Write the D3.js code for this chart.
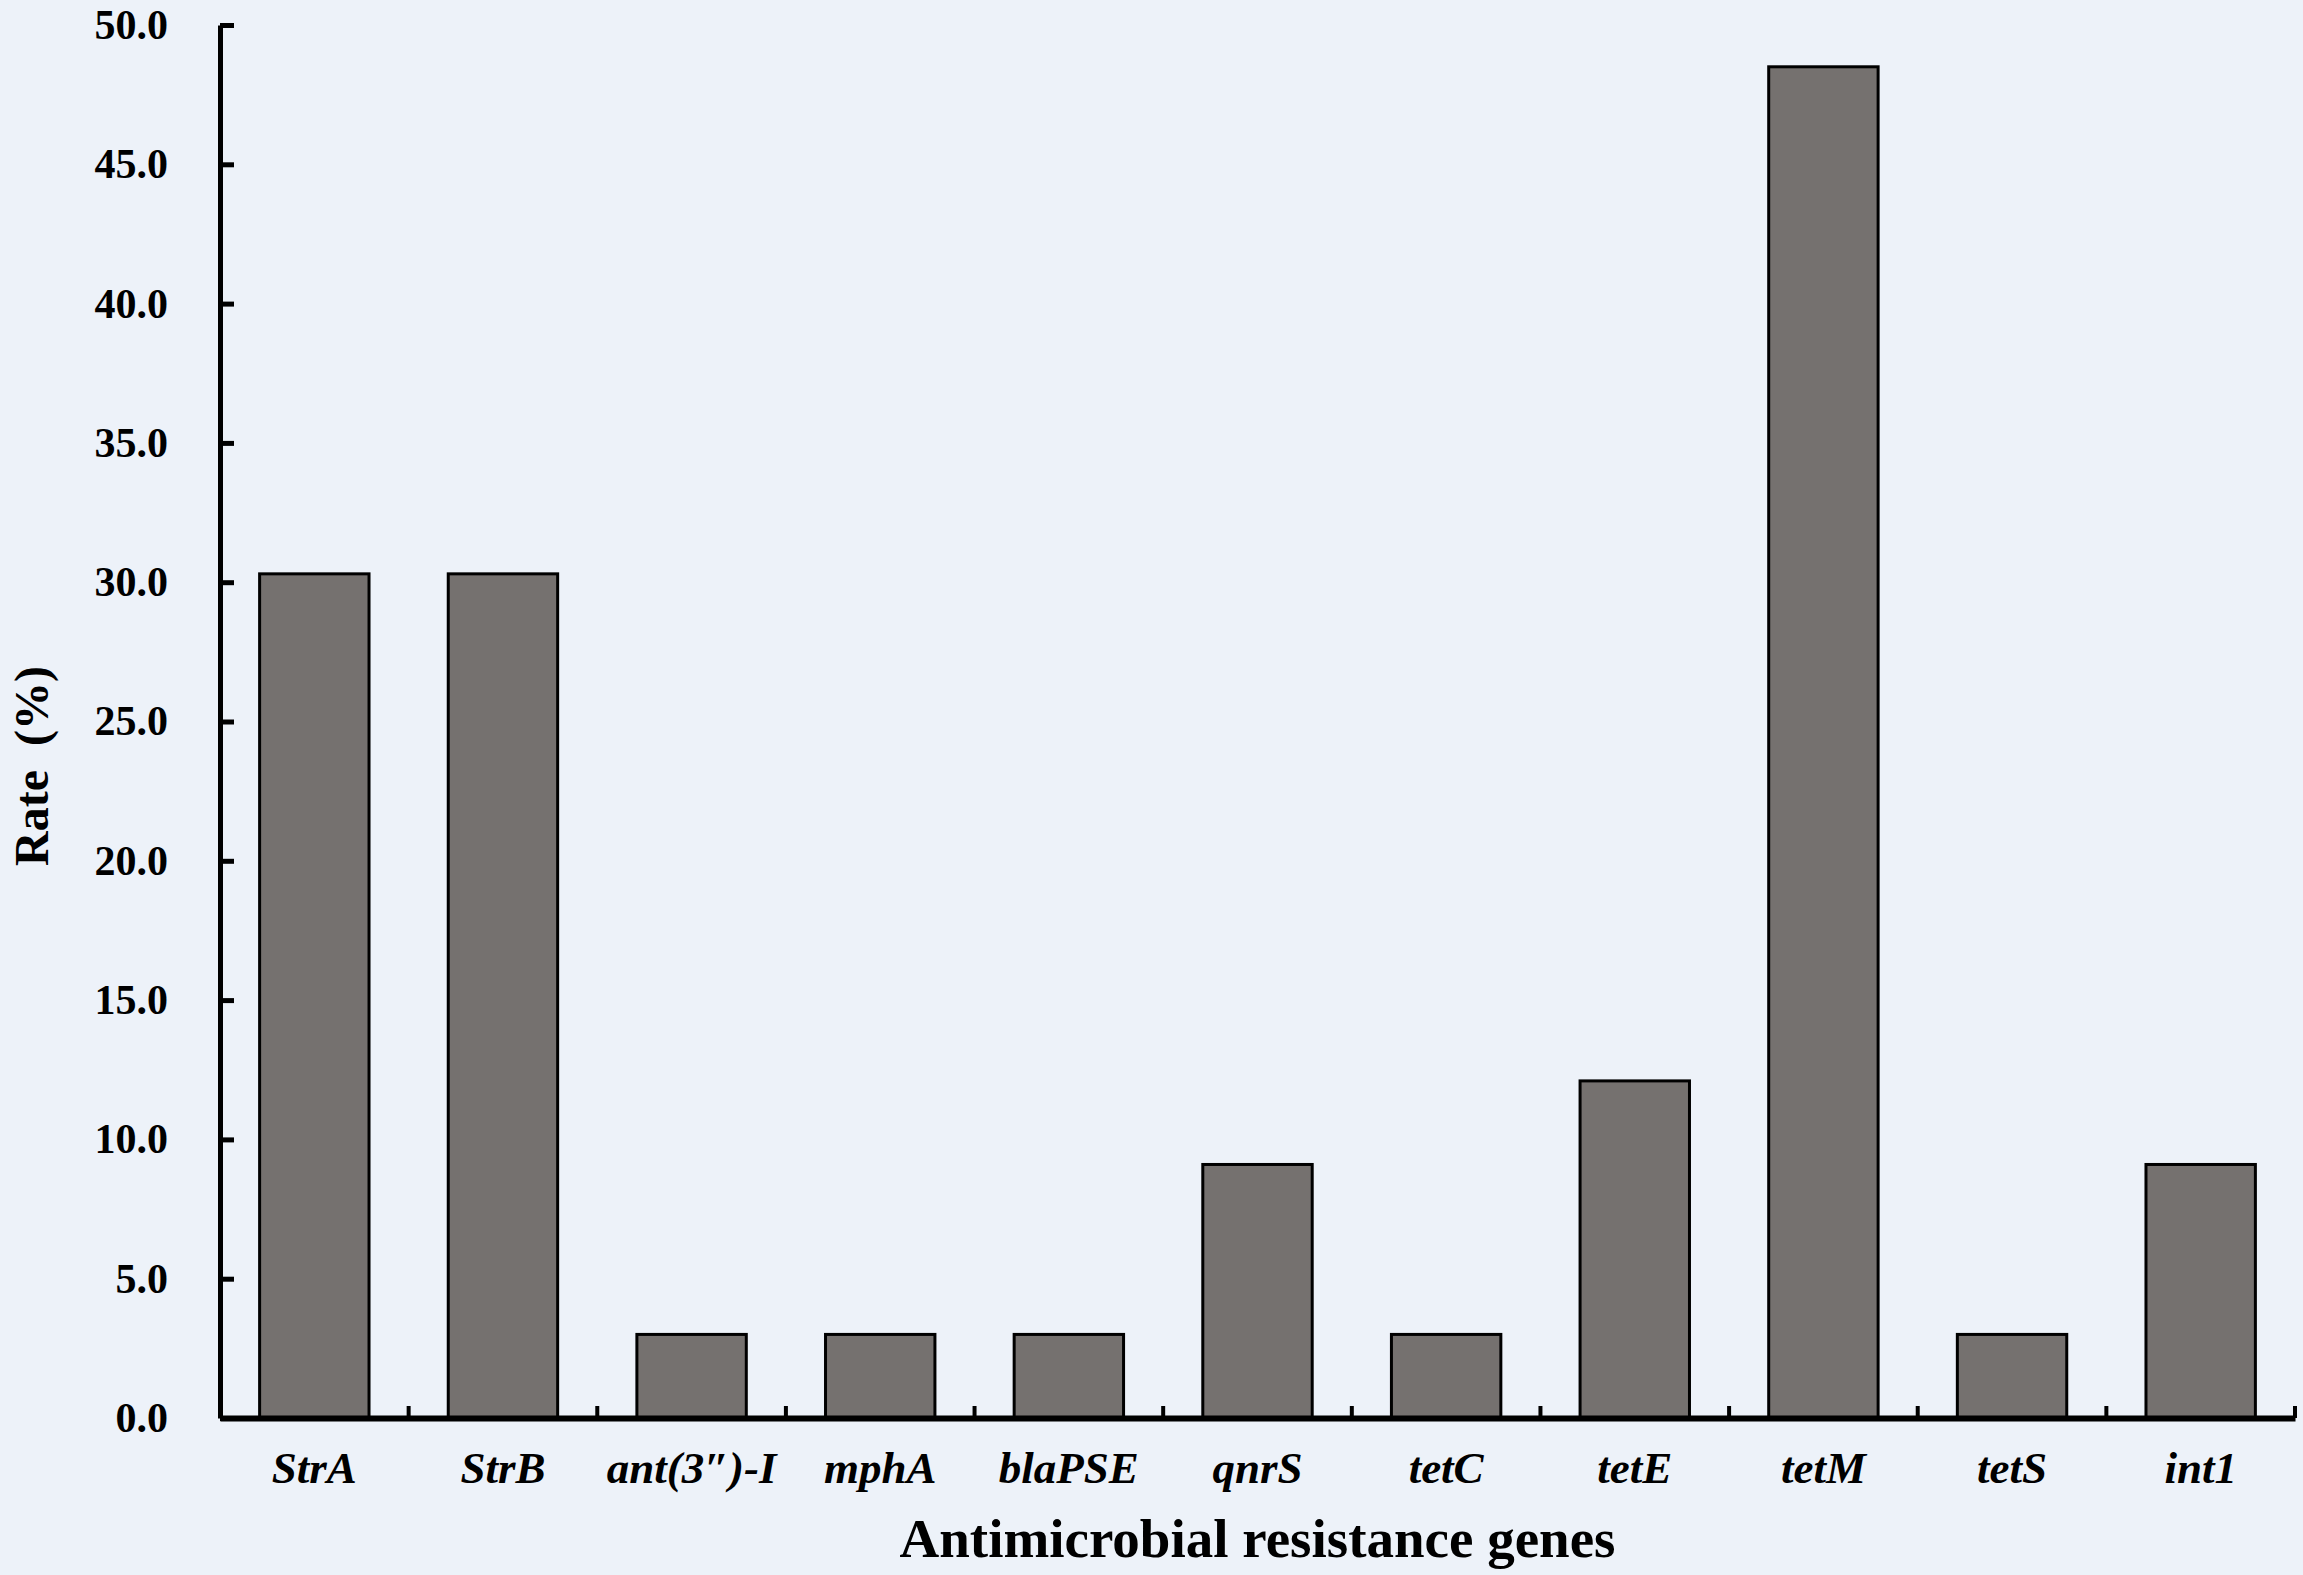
<!DOCTYPE html>
<html>
<head>
<meta charset="utf-8">
<script src="https://cdn.jsdelivr.net/npm/d3@7"></script>
<style>
  body { margin: 0; background: #edf2f9; }
  svg { display: block; }
  text { font-family: "Times New Roman", "Liberation Serif", serif; fill: #000; }
</style>
</head>
<body>
<div class="chart"></div>
<script>
const genes = ["StrA", "StrB", "ant(3\u2033)-I", "mphA", "blaPSE", "qnrS", "tetC", "tetE", "tetM", "tetS", "int1"];
const rates = [30.3, 30.3, 3.0, 3.0, 3.0, 9.1, 3.0, 12.1, 48.5, 3.0, 9.1];
const yTicks = [0, 5, 10, 15, 20, 25, 30, 35, 40, 45, 50];

const width = 2303, height = 1575;
const margin = { top: 25, right: 8, bottom: 157, left: 220 };
const pad = 0.42;

const svg = d3.select(".chart")
    .append("svg")
    .attr("width", width)
    .attr("height", height);

svg.append("rect")
    .attr("width", width)
    .attr("height", height)
    .attr("fill", "#edf2f9");

const x = d3.scaleBand()
    .domain(genes)
    .range([margin.left, width - margin.right])
    .paddingInner(pad)
    .paddingOuter(pad / 2);

const y = d3.scaleLinear()
    .domain([0, 50])
    .range([height - margin.bottom, margin.top]);

// bars
svg.selectAll(".bar")
    .data(genes)
    .enter()
    .append("rect")
    .attr("class", "bar")
    .attr("x", d => x(d))
    .attr("y", (d, i) => y(rates[i]))
    .attr("width", x.bandwidth())
    .attr("height", (d, i) => y(0) - y(rates[i]))
    .attr("fill", "#75716f")
    .attr("stroke", "#000")
    .attr("stroke-width", 3);

// y axis, ticks point inward
const yAxis = svg.append("g")
    .attr("transform", "translate(" + margin.left + ",0)")
    .call(d3.axisLeft(y)
        .tickValues(yTicks)
        .tickFormat(d3.format(".1f"))
        .tickSizeInner(-14)
        .tickSizeOuter(0)
        .tickPadding(52));
yAxis.select(".domain").attr("stroke-width", 5);
yAxis.selectAll(".tick line").attr("stroke-width", 5);
yAxis.selectAll(".tick text")
    .style("font-size", "42px")
    .style("font-weight", "bold");

// x axis: labels at band centres, ticks between categories
const xAxis = svg.append("g")
    .attr("transform", "translate(0," + y(0) + ")")
    .call(d3.axisBottom(x).tickSize(0).tickPadding(33));
xAxis.select(".domain").attr("stroke-width", 6);
xAxis.selectAll(".tick text")
    .style("font-size", "45px")
    .style("font-weight", "bold")
    .style("font-style", "italic");

xAxis.selectAll(".sep")
    .data(genes)
    .enter()
    .append("line")
    .attr("class", "sep")
    .attr("x1", (d, i) => x.range()[0] + (i + 1) * x.step())
    .attr("x2", (d, i) => x.range()[0] + (i + 1) * x.step())
    .attr("y1", 0)
    .attr("y2", -12)
    .attr("stroke", "#000")
    .attr("stroke-width", 4);

// axis titles
svg.append("text")
    .attr("x", (x.range()[0] + x.range()[1]) / 2)
    .attr("y", 1557)
    .attr("text-anchor", "middle")
    .style("font-size", "55px")
    .style("font-weight", "bold")
    .text("Antimicrobial resistance genes");

svg.append("text")
    .attr("transform", "translate(48,766) rotate(-90)")
    .attr("text-anchor", "middle")
    .style("font-size", "48px")
    .style("font-weight", "bold")
    .text("Rate\u00a0\u00a0(%)");
</script>
</body>
</html>
